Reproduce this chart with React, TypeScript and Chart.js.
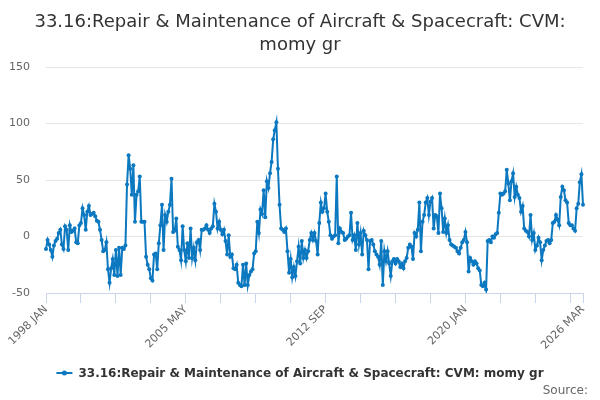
import React, { useEffect, useRef } from 'react';
import { Chart, registerables } from 'chart.js';

Chart.register(...registerables);

const TITLE_LINES = ['33.16:Repair & Maintenance of Aircraft & Spacecraft: CVM:', 'momy gr'];
const SERIES_NAME = '33.16:Repair & Maintenance of Aircraft & Spacecraft: CVM: momy gr';
const CREDIT = 'Source:';

const MONTHS = ['JAN', 'FEB', 'MAR', 'APR', 'MAY', 'JUN', 'JUL', 'AUG', 'SEP', 'OCT', 'NOV', 'DEC'];
const START_YEAR = 1998;

// monthly values, one row per year
const VALUES_1998_2004 = [
  -11, -3, -7, -12, -18, -8, -4, -2, 3, 6, -7, -11,
  9, 6, -12, 10, 4, 5, 7, -5, -6, 10, 12, 25,
  19, 6, 22, 27, 19, 20, 21, 18, 14, 13, 6, -3,
  -13, -12, -5, -29, -41, -28, -20, -34, -12, -35, -10, -34,
  -10, -11, -8, 46, 72, 60, 37, 63, 13, 37, 40, 53,
  13, 13, 13, -18, -25, -29, -37, -39, -16, -15, -29, -6,
  10, 28, -12, 19, 13, 22, 28, 51, 4, 5, 16, -9,
];
const VALUES_2005_2011 = [
  -12, -21, 9, -12, -22, -6, -19, 7, -19, -10, -21, -5,
  -3, -12, 6, 6, 7, 10, 6, 3, 7, 9, 29, 22,
  7, 13, 6, 2, 6, -4, -16, 1, -18, -16, -28, -29,
  -25, -41, -43, -44, -25, -43, -24, -43, -34, -31, -29, -15,
  -13, 13, 3, 24, 20, 41, 17, 49, 43, 56, 66, 86,
  94, 101, 60, 28, 7, 6, 4, 7, -13, -32, -20, -36,
  -27, -35, -22, -9, -24, -4, -19, -12, -19, -13, -3, 3,
];
const VALUES_2012_2018 = [
  -3, 3, -4, -16, 12, 30, 22, 25, 38, 22, 13, 1,
  -2, 0, 1, 53, -6, 7, 4, 3, -3, -2, 0, 1,
  21, -3, 1, -12, 12, -7, 3, -16, 5, 1, -3, -29,
  -4, -3, -7, -13, -16, -18, -25, -4, -43, -13, -22, -13,
  -24, -35, -22, -20, -24, -20, -22, -27, -24, -28, -22, -19,
  -10, -7, -9, -20, 3, 0, 6, 30, -13, 13, 19, 30,
  34, 19, 31, 34, 7, 19, 18, 3, 38, 25, 4, 16,
];
const VALUES_2019_2026 = [
  3, 10, -3, -7, -8, -9, -10, -13, -15, -10, -5, -3,
  4, -5, -31, -19, -22, -25, -22, -24, -28, -30, -43, -44,
  -41, -47, -4, -3, -5, 0, -1, 2, 3, 21, 38, 37,
  38, 40, 59, 47, 32, 49, 56, 35, 44, 37, 34, 22,
  27, 7, 5, 4, 0, 19, -3, 3, -12, -8, -1, -5,
  -21, -12, -8, -4, -3, -6, -3, 12, 13, 19, 15, 10,
  35, 44, 41, 32, 30, 12, 10, 10, 7, 5, 25, 29,
  48, 55, 28,
];

const VALUES = [...VALUES_1998_2004, ...VALUES_2005_2011, ...VALUES_2012_2018, ...VALUES_2019_2026];
const CATEGORIES = VALUES.map((_, i) => `${START_YEAR + Math.floor(i / 12)} ${MONTHS[i % 12]}`);

const X_LABELS = ['1998 JAN', '2005 MAY', '2012 SEP', '2020 JAN', '2026 MAR'];
const X_TICK_STEP = 22;
const Y_TICKS = [-50, 0, 50, 100, 150];

const LINE_COLOR = '#0b78c0';
const FONT = '"DejaVu Sans", sans-serif';

const overlayPlugin = {
  id: 'overlay',
  afterDraw(chart: any) {
    const ctx = chart.ctx;
    const cx = chart.width / 2;
    ctx.save();
    // title
    ctx.fillStyle = '#333333';
    ctx.font = `18px ${FONT}`;
    ctx.textAlign = 'center';
    ctx.textBaseline = 'alphabetic';
    TITLE_LINES.forEach((t, k) => ctx.fillText(t, cx, 27 + k * 23));
    // legend
    ctx.font = `bold 12px ${FONT}`;
    const tw = ctx.measureText(SERIES_NAME).width;
    const symW = 16;
    const gap = 6;
    const x0 = cx - (symW + gap + tw) / 2;
    const ly = 373;
    ctx.strokeStyle = LINE_COLOR;
    ctx.lineWidth = 2;
    ctx.beginPath();
    ctx.moveTo(x0, ly);
    ctx.lineTo(x0 + symW, ly);
    ctx.stroke();
    ctx.fillStyle = LINE_COLOR;
    ctx.beginPath();
    ctx.arc(x0 + symW / 2, ly, 2.5, 0, Math.PI * 2);
    ctx.fill();
    ctx.fillStyle = '#333333';
    ctx.textAlign = 'left';
    ctx.textBaseline = 'middle';
    ctx.fillText(SERIES_NAME, x0 + symW + gap, ly + 1);
    // credits
    ctx.font = `12px ${FONT}`;
    ctx.fillStyle = '#666666';
    ctx.textAlign = 'right';
    ctx.textBaseline = 'alphabetic';
    ctx.fillText(CREDIT, 588, 394);
    ctx.restore();
  },
};

export default function App() {
  const canvasRef = useRef<HTMLCanvasElement | null>(null);

  useEffect(() => {
    const canvas = canvasRef.current;
    if (!canvas) return;
    const tickPositions: number[] = [];
    for (let i = 0; i < CATEGORIES.length; i += X_TICK_STEP) tickPositions.push(i);
    if (tickPositions[tickPositions.length - 1] !== CATEGORIES.length - 1) tickPositions.push(CATEGORIES.length - 1);

    const chart = new Chart(canvas, {
      type: 'line',
      data: {
        labels: CATEGORIES,
        datasets: [
          {
            label: SERIES_NAME,
            data: VALUES,
            borderColor: LINE_COLOR,
            backgroundColor: LINE_COLOR,
            borderWidth: 2,
            pointRadius: 2,
            pointBorderWidth: 0,
            pointBackgroundColor: LINE_COLOR,
            tension: 0,
            fill: false,
          },
        ],
      },
      options: {
        responsive: false,
        animation: false,
        events: [],
        layout: { padding: { top: 67, right: 17, bottom: 0, left: 0 } },
        plugins: {
          legend: { display: false },
          title: { display: false },
          tooltip: { enabled: false },
        },
        scales: {
          x: {
            type: 'category',
            offset: false,
            afterBuildTicks: (s: any) => {
              s.ticks = tickPositions.map((v) => ({ value: v }));
            },
            afterFit: (s: any) => {
              s.height = 107;
            },
            grid: { drawOnChartArea: false, drawTicks: true, tickLength: 10, color: '#ccd6eb', lineWidth: 1 },
            border: { color: '#ccd6eb', width: 1 },
            ticks: {
              autoSkip: false,
              maxRotation: 45,
              minRotation: 45,
              color: '#666666',
              padding: 0,
              font: { size: 11, family: FONT },
              callback: function (this: any, value: any) {
                const l = this.getLabelForValue(value);
                return X_LABELS.includes(l) ? l : '';
              },
            },
          },
          y: {
            min: -50,
            max: 150,
            afterBuildTicks: (s: any) => {
              s.ticks = Y_TICKS.map((v) => ({ value: v }));
            },
            afterFit: (s: any) => {
              s.width = 46;
            },
            grid: { color: '#e6e6e6', drawTicks: false, lineWidth: 1 },
            border: { display: false },
            ticks: {
              color: '#666666',
              padding: 16,
              font: { size: 11, family: FONT },
            },
          },
        },
      },
      plugins: [overlayPlugin],
    });
    return () => chart.destroy();
  }, []);

  return (
    <div style={{ position: 'absolute', left: 0, top: 0, width: 600, height: 400, background: '#ffffff' }}>
      <canvas ref={canvasRef} width={600} height={400} style={{ display: 'block', width: 600, height: 400 }} />
    </div>
  );
}
